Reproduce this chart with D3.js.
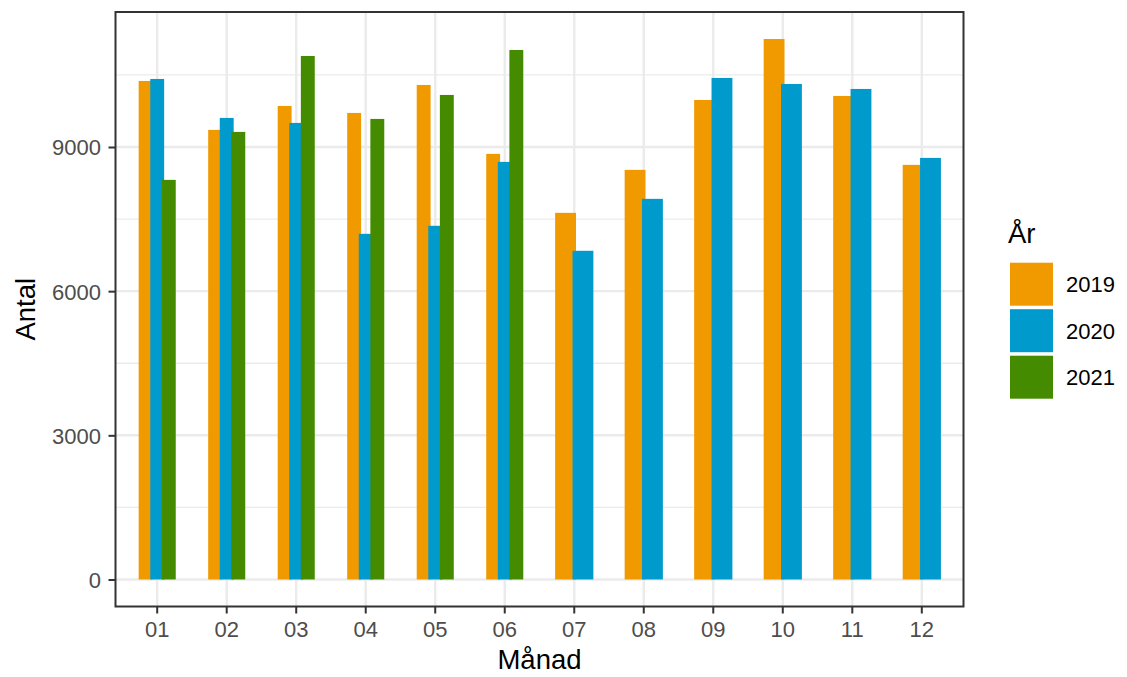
<!DOCTYPE html>
<html>
<head>
<meta charset="utf-8">
<script src="https://cdn.jsdelivr.net/npm/d3@7"></script>
<style>
  html, body { margin: 0; padding: 0; background: #fff; }
  svg { display: block; font-family: "Liberation Sans", Arial, Helvetica, sans-serif; }
</style>
</head>
<body>
<svg id="chart" width="1127" height="677"></svg>
<script>
// ---- data ----
const months = ["01","02","03","04","05","06","07","08","09","10","11","12"];
const years = ["2019","2020","2021"];
const values2019 = [10374, 9356, 9854, 9709, 10291, 8857, 7630, 8524, 9979, 11247, 10062, 8628];
const values2020 = [10416, 9605, 9501, 7193, 7360, 8690, 6840, 7921, 10437, 10312, 10208, 8773];
const values2021 = [8316, 9314, 10894, 9584, 10083, 11019, null, null, null, null, null, null];
const yTicks = [0, 3000, 6000, 9000];
const yMinorTicks = [1500, 4500, 7500, 10500];
const colors = ["#F09A00", "#009ACD", "#458B00"];

const seriesValues = [values2019, values2020, values2021];

// ---- layout ----
const panel = { left: 115.5, right: 963.5, top: 12, bottom: 606.5 };
const svg = d3.select("#chart");

const x = d3.scaleBand()
  .domain(months)
  .range([panel.left, panel.right])
  .paddingInner(0)
  .paddingOuter(0.1);

const maxV = d3.max(seriesValues.flat().filter(v => v != null));
const ext = maxV * 0.05;
const y = d3.scaleLinear()
  .domain([-ext, maxV + ext])
  .range([panel.bottom, panel.top]);

// background
svg.append("rect")
  .attr("x", panel.left).attr("y", panel.top)
  .attr("width", panel.right - panel.left).attr("height", panel.bottom - panel.top)
  .attr("fill", "#fff");

const grid = svg.append("g");
// minor horizontal
grid.selectAll("line.hmin").data(yMinorTicks).enter().append("line")
  .attr("x1", panel.left).attr("x2", panel.right)
  .attr("y1", d => y(d)).attr("y2", d => y(d))
  .attr("stroke", "#EBEBEB").attr("stroke-width", 1.3);
// major horizontal
grid.selectAll("line.hmaj").data(yTicks).enter().append("line")
  .attr("x1", panel.left).attr("x2", panel.right)
  .attr("y1", d => y(d)).attr("y2", d => y(d))
  .attr("stroke", "#EBEBEB").attr("stroke-width", 2.4);
// major vertical
grid.selectAll("line.vmaj").data(months).enter().append("line")
  .attr("y1", panel.top).attr("y2", panel.bottom)
  .attr("x1", d => x(d) + x.bandwidth() / 2).attr("x2", d => x(d) + x.bandwidth() / 2)
  .attr("stroke", "#EBEBEB").attr("stroke-width", 2.4);

// bars (ggplot-style dodge: geom width 0.6, dodge width 0.5)
const step = x.bandwidth();
const geomW = 0.6 * step;
const dodgeW = 0.5 * step;
const bars = svg.append("g");
years.forEach((yr, si) => {
  const vals = seriesValues[si];
  months.forEach((m, mi) => {
    const v = vals[mi];
    if (v == null) return;
    const n = seriesValues.filter(s => s[mi] != null).length;
    const center = x(m) + step / 2;
    const cx = center + dodgeW * ((si + 0.5) / n - 0.5);
    const bw = geomW / n;
    bars.append("rect")
      .attr("x", cx - bw / 2)
      .attr("width", bw)
      .attr("y", y(v))
      .attr("height", y(0) - y(v))
      .attr("fill", colors[si]);
  });
});

// panel border
svg.append("rect")
  .attr("x", panel.left).attr("y", panel.top)
  .attr("width", panel.right - panel.left).attr("height", panel.bottom - panel.top)
  .attr("fill", "none").attr("stroke", "#333333").attr("stroke-width", 2);

// y axis
const yAxis = d3.axisLeft(y).tickValues(yTicks).tickSize(7).tickPadding(7.5).tickFormat(d3.format("d"));
const gy = svg.append("g").attr("transform", `translate(${panel.left},0)`).call(yAxis);
gy.select(".domain").remove();
gy.selectAll(".tick line").attr("stroke", "#333333").attr("stroke-width", 2);
gy.selectAll(".tick text").attr("fill", "#4D4D4D").attr("font-size", 22).attr("dy", "0.36em")
  .attr("font-family", "'Liberation Sans', Arial, sans-serif");

// x axis
const xAxis = d3.axisBottom(x).tickSize(7).tickPadding(8);
const gx = svg.append("g").attr("transform", `translate(0,${panel.bottom})`).call(xAxis);
gx.select(".domain").remove();
gx.selectAll(".tick line").attr("stroke", "#333333").attr("stroke-width", 2);
gx.selectAll(".tick text").attr("fill", "#4D4D4D").attr("font-size", 22).attr("dy", "0.71em")
  .attr("font-family", "'Liberation Sans', Arial, sans-serif");

// axis titles
svg.append("text")
  .attr("x", (panel.left + panel.right) / 2).attr("y", 669)
  .attr("text-anchor", "middle").attr("font-size", 27.5).attr("fill", "#000")
  .text("Månad");
svg.append("text")
  .attr("transform", `translate(35,${(panel.top + panel.bottom) / 2}) rotate(-90)`)
  .attr("text-anchor", "middle").attr("font-size", 27.5).attr("fill", "#000")
  .text("Antal");

// legend
const legend = svg.append("g");
legend.append("text").attr("x", 1008).attr("y", 243)
  .attr("font-size", 27.5).attr("fill", "#000").text("År");
const keyTop = [262.7, 309.2, 355.7];
years.forEach((yr, i) => {
  legend.append("rect")
    .attr("x", 1010).attr("y", keyTop[i])
    .attr("width", 43).attr("height", 43)
    .attr("fill", colors[i]);
  legend.append("text")
    .attr("x", 1066).attr("y", keyTop[i] + 21.5).attr("dy", "0.36em")
    .attr("font-size", 22).attr("fill", "#000").text(yr);
});
</script>
</body>
</html>
